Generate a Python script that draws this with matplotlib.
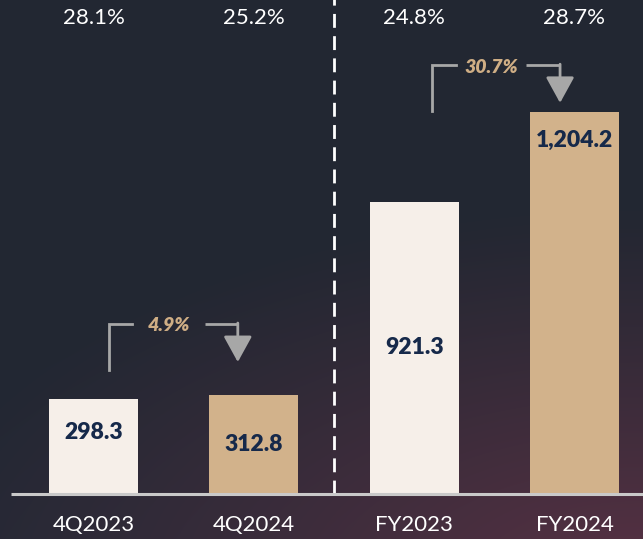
import numpy as np
import matplotlib
matplotlib.use("Agg")
import matplotlib.pyplot as plt

# ---- data ----
categories = ["4Q2023", "4Q2024", "FY2023", "FY2024"]
values = [298.3, 312.8, 921.3, 1204.2]
value_labels = ["298.3", "312.8", "921.3", "1,204.2"]
margins = ["28.1%", "25.2%", "24.8%", "28.7%"]
growth_labels = ["4.9%", "30.7%"]
label_frac = [0.65, 0.50, 0.50, 0.925]   # vertical position of value label within bar

# ---- style ----
W, H, DPI = 643, 539, 100
cream = "#f6efe9"
tan = "#d2b28b"
navy = "#16294a"
bar_colors = [cream, tan, cream, tan]
font = ["Lato", "DejaVu Sans"]
plt.rcParams["font.family"] = font

fig = plt.figure(figsize=(W / DPI, H / DPI), dpi=DPI)

# background gradient
bg = fig.add_axes([0, 0, 1, 1])
yy, xx = np.mgrid[0:H, 0:W]
base = np.array([0x22, 0x27, 0x32]) / 255
red = np.array([0x56, 0x30, 0x41]) / 255
d = np.sqrt(((xx - 640) / 720.0) ** 2 + ((yy - 580) / 380.0) ** 2)
t = np.clip(1 - d, 0, 1) ** 1.1
t2 = np.clip((yy - 250) / 300.0, 0, 1) * 0.25
img = base[None, None, :] * (1 - t[..., None]) + red[None, None, :] * t[..., None]
img = img + (np.array([0x29, 0x2c, 0x3c]) / 255 - base)[None, None, :] * t2[..., None]
bg.imshow(np.clip(img, 0, 1), extent=[0, W, H, 0], aspect="auto")
bg.axis("off")

# main axes in data units
ax = fig.add_axes([0, 0, 1, 1])
ax.patch.set_alpha(0)
px_per_cat = 160.33
x0_px = 93.5
px_per_unit = 0.3172
base_px = 494
ax.set_xlim(-x0_px / px_per_cat, (W - x0_px) / px_per_cat)
ax.set_ylim(-(H - base_px) / px_per_unit, base_px / px_per_unit)
ax.axis("off")

x = np.arange(len(categories))
ax.bar(x, values, width=0.555, color=bar_colors, zorder=3)

# baseline
ax.plot([-0.515, 3.6], [0, 0], color="#c9c9c9", lw=2.2, zorder=4, solid_capstyle="butt")

# divider
ax.plot([1.5, 1.5], [0, 1700], color="white", lw=2, dashes=(5, 3), zorder=2)

ytop = (base_px - 18) / px_per_unit
ycat = -(525 - base_px) / px_per_unit
for i in range(len(categories)):
    ax.text(x[i], ytop, margins[i], ha="center", va="center", color="white", fontsize=16)
    ax.text(x[i], ycat, categories[i], ha="center", va="center", color="white", fontsize=16)
    ax.text(x[i], values[i] * label_frac[i], value_labels[i], ha="center", va="center",
            color=navy, fontsize=16.5, fontweight="heavy", zorder=5)

# growth brackets: (left bar, left x offset, right x offset, bottom y, top y, tip y)
grey = "#a7a7a7"
brackets = [
    (0, 0.097, 0.90, 391, 536, 416),
    (2, 2.111, 2.91, 1207, 1352, 1233),
]
for (i, xl, xr, yb, yt, ytip), lab in zip(brackets, growth_labels):
    xm = (xl + xr) / 2 - 0.03
    gap = 0.23 if len(lab) < 5 else 0.22
    ax.plot([xl, xl, xm - gap], [yb, yt, yt], color=grey, lw=2, zorder=4,
            solid_joinstyle="miter")
    ax.plot([xm + gap, xr], [yt, yt], color=grey, lw=2, zorder=4, solid_capstyle="butt")
    ax.annotate("", xy=(xr, ytip), xytext=(xr, yt + 3),
                arrowprops=dict(arrowstyle="-|>,head_length=1.0,head_width=0.55",
                                color=grey, lw=2, shrinkA=0, shrinkB=0,
                                mutation_scale=16), zorder=4)
    ax.text(xm, yt - 6, lab, ha="center", va="center", color="#cfae85",
            fontsize=14, fontweight="heavy", fontstyle="italic", zorder=5)

fig.savefig("out.png", dpi=DPI)
